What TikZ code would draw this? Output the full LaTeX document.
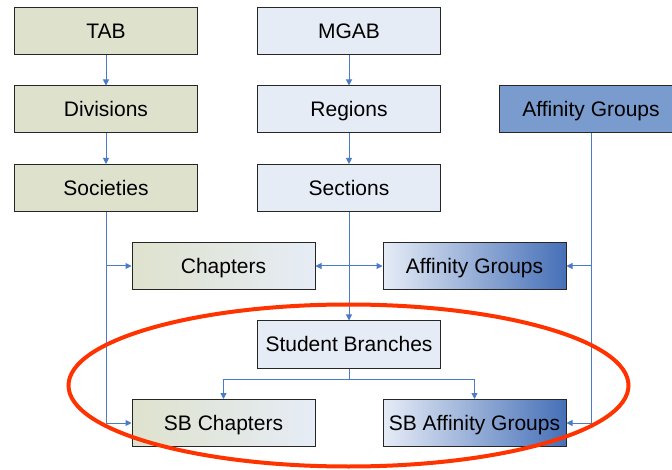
\documentclass[tikz,border=0pt]{standalone}
\usepackage{fontspec}
\setmainfont{Liberation Sans}
\usetikzlibrary{arrows.meta}
\definecolor{boxgreen}{HTML}{DEE2CD}
\definecolor{boxblue}{HTML}{E6ECF6}
\definecolor{boxdark}{HTML}{7A9BCD}
\definecolor{gradblue}{HTML}{4670B8}
\definecolor{connblue}{HTML}{4A7BC7}
\definecolor{ringred}{HTML}{FF3300}
\tikzset{
  box/.style={draw=black!85, line width=1pt, minimum width=183pt, minimum height=47pt,
    inner sep=0pt, text height=15pt, text depth=0pt, font=\fontsize{21}{25}\selectfont},
  gbox/.style={box, fill=boxgreen},
  bbox/.style={box, fill=boxblue},
  dbox/.style={box, fill=boxdark},
  gradgb/.style={box, left color=boxgreen, right color=boxblue},
  gradbb/.style={box, left color=boxblue, right color=gradblue},
  conn/.style={draw=connblue, line width=1pt},
  arr/.style={conn, -{Triangle[length=6pt,width=6pt]}},
  ring/.style={draw=ringred, line width=4pt}
}
\begin{document}
\begin{tikzpicture}[x=1pt,y=-1pt]
\useasboundingbox (0,0) rectangle (672,470);
\clip (0,0) rectangle (672,470);
% top rows
\node[gbox] (tab) at (106,31.5) {TAB};
\node[bbox] (mgab) at (349,31.5) {MGAB};
\node[gbox] (div) at (106,109.5) {Divisions};
\node[bbox] (reg) at (349,109.5) {Regions};
\node[dbox] (afft) at (591,109.5) {Affinity Groups};
\node[gbox] (soc) at (106,188) {Societies};
\node[bbox] (sec) at (349,188) {Sections};
% middle
\node[gradgb] (chap) at (223.5,266) {Chapters};
\node[gradbb] (affm) at (474.5,266) {Affinity Groups};
\node[bbox] (sb) at (349,344.5) {Student Branches};
\node[gradgb] (sbc) at (223.5,423) {SB Chapters};
\node[gradbb] (sba) at (474.5,423) {SB Affinity Groups};
% connectors
\draw[arr] (tab) -- (div);
\draw[arr] (div) -- (soc);
\draw[arr] (mgab) -- (reg);
\draw[arr] (reg) -- (sec);
\draw[arr] (soc.south) |- (sbc.west);
\draw[arr] (soc.south |- chap.west) -- (chap.west);
\draw[arr] (sec.south) -- (sb.north);
\draw[arr] (sec.south |- chap.east) -- (chap.east);
\draw[arr] (sec.south |- affm.west) -- (affm.west);
\draw[arr] (afft.south) |- (sba.east);
\draw[arr] (afft.south |- affm.east) -- (affm.east);
\coordinate (sbj) at (349,379);
\draw[conn] (sb.south) -- (sbj);
\draw[arr] (sbj) -| (sbc.north);
\draw[arr] (sbj) -| (sba.north);
% ring
\draw[ring] (348.5,385.5) ellipse [x radius=280, y radius=81];
\end{tikzpicture}
\end{document}
